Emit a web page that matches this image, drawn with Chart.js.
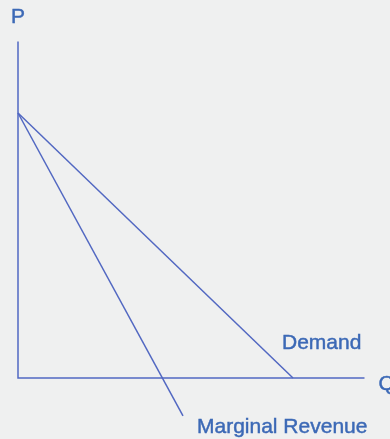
<!DOCTYPE html>
<html>
<head>
<meta charset="utf-8">
<script src="https://cdn.jsdelivr.net/npm/chart.js@4/dist/chart.umd.min.js"></script>
<style>
html,body{margin:0;padding:0;background:#eff0f0;overflow:hidden;}
canvas{display:block;}
</style>
</head>
<body>
<canvas id="c" width="390" height="439"></canvas>
<script>
// Quantity (Q) and price (P) values
const demandQ = [0, 10];
const demandP = [10, 0];
const mrQ = [0, 6];
const mrP = [10, -1.43];
const axisLimitQ = 12.6;
const axisLimitP = 12.7;
const labels = { p: "P", q: "Q", demand: "Demand", mr: "Marginal Revenue" };

const lineColor = "#5268c2";
const textColor = "#3c69b6";

function pts(xs, ys){ return xs.map((x,i)=>({x:x, y:ys[i]})); }

const labelPlugin = {
  id: "labels",
  beforeDraw(chart){
    const ctx = chart.ctx;
    ctx.save();
    ctx.fillStyle = "#eff0f0";
    ctx.fillRect(0,0,chart.width,chart.height);
    ctx.restore();
  },
  afterDatasetsDraw(chart){
    const ctx = chart.ctx, xs = chart.scales.x, ys = chart.scales.y;
    ctx.save();
    ctx.fillStyle = textColor;
    ctx.strokeStyle = textColor;
    ctx.lineWidth = 0.45;
    ctx.font = "21px 'Liberation Sans', Arial, sans-serif";
    ctx.textBaseline = "alphabetic";
    const put = (t, x, y) => { ctx.fillText(t, x, y); ctx.strokeText(t, x, y); };
    // P
    ctx.textAlign = "center";
    put(labels.p, xs.getPixelForValue(0), ys.getPixelForValue(axisLimitP) - 18);
    // Q
    ctx.textAlign = "left";
    put(labels.q, xs.getPixelForValue(axisLimitQ) + 14, ys.getPixelForValue(0) + 12);
    // Demand
    put(labels.demand, xs.getPixelForValue(demandQ[1]) - 11, ys.getPixelForValue(0) - 29);
    // Marginal Revenue
    put(labels.mr, xs.getPixelForValue(mrQ[1]) + 14, ys.getPixelForValue(mrP[1]) + 17);
    ctx.restore();
  }
};

const xPerPx = 1/27.5, yPerPx = 1/26.5;
const xMin = -18*xPerPx, xMax = xMin + 390*xPerPx;
const yMax = 378*yPerPx, yMin = yMax - 439*yPerPx;

const ds = (data) => ({
  data, showLine: true, borderColor: lineColor, borderWidth: 1.5,
  pointRadius: 0, fill: false, tension: 0
});

new Chart(document.getElementById("c"), {
  type: "scatter",
  data: {
    datasets: [
      ds([{x:0,y:axisLimitP},{x:0,y:0},{x:axisLimitQ,y:0}]),
      ds(pts(demandQ, demandP)),
      ds(pts(mrQ, mrP))
    ]
  },
  options: {
    responsive: false,
    animation: false,
    layout: { padding: 0 },
    plugins: { legend: {display:false}, tooltip: {enabled:false} },
    scales: {
      x: { type: "linear", display: false, min: xMin, max: xMax },
      y: { type: "linear", display: false, min: yMin, max: yMax }
    }
  },
  plugins: [labelPlugin]
});
</script>
</body>
</html>
